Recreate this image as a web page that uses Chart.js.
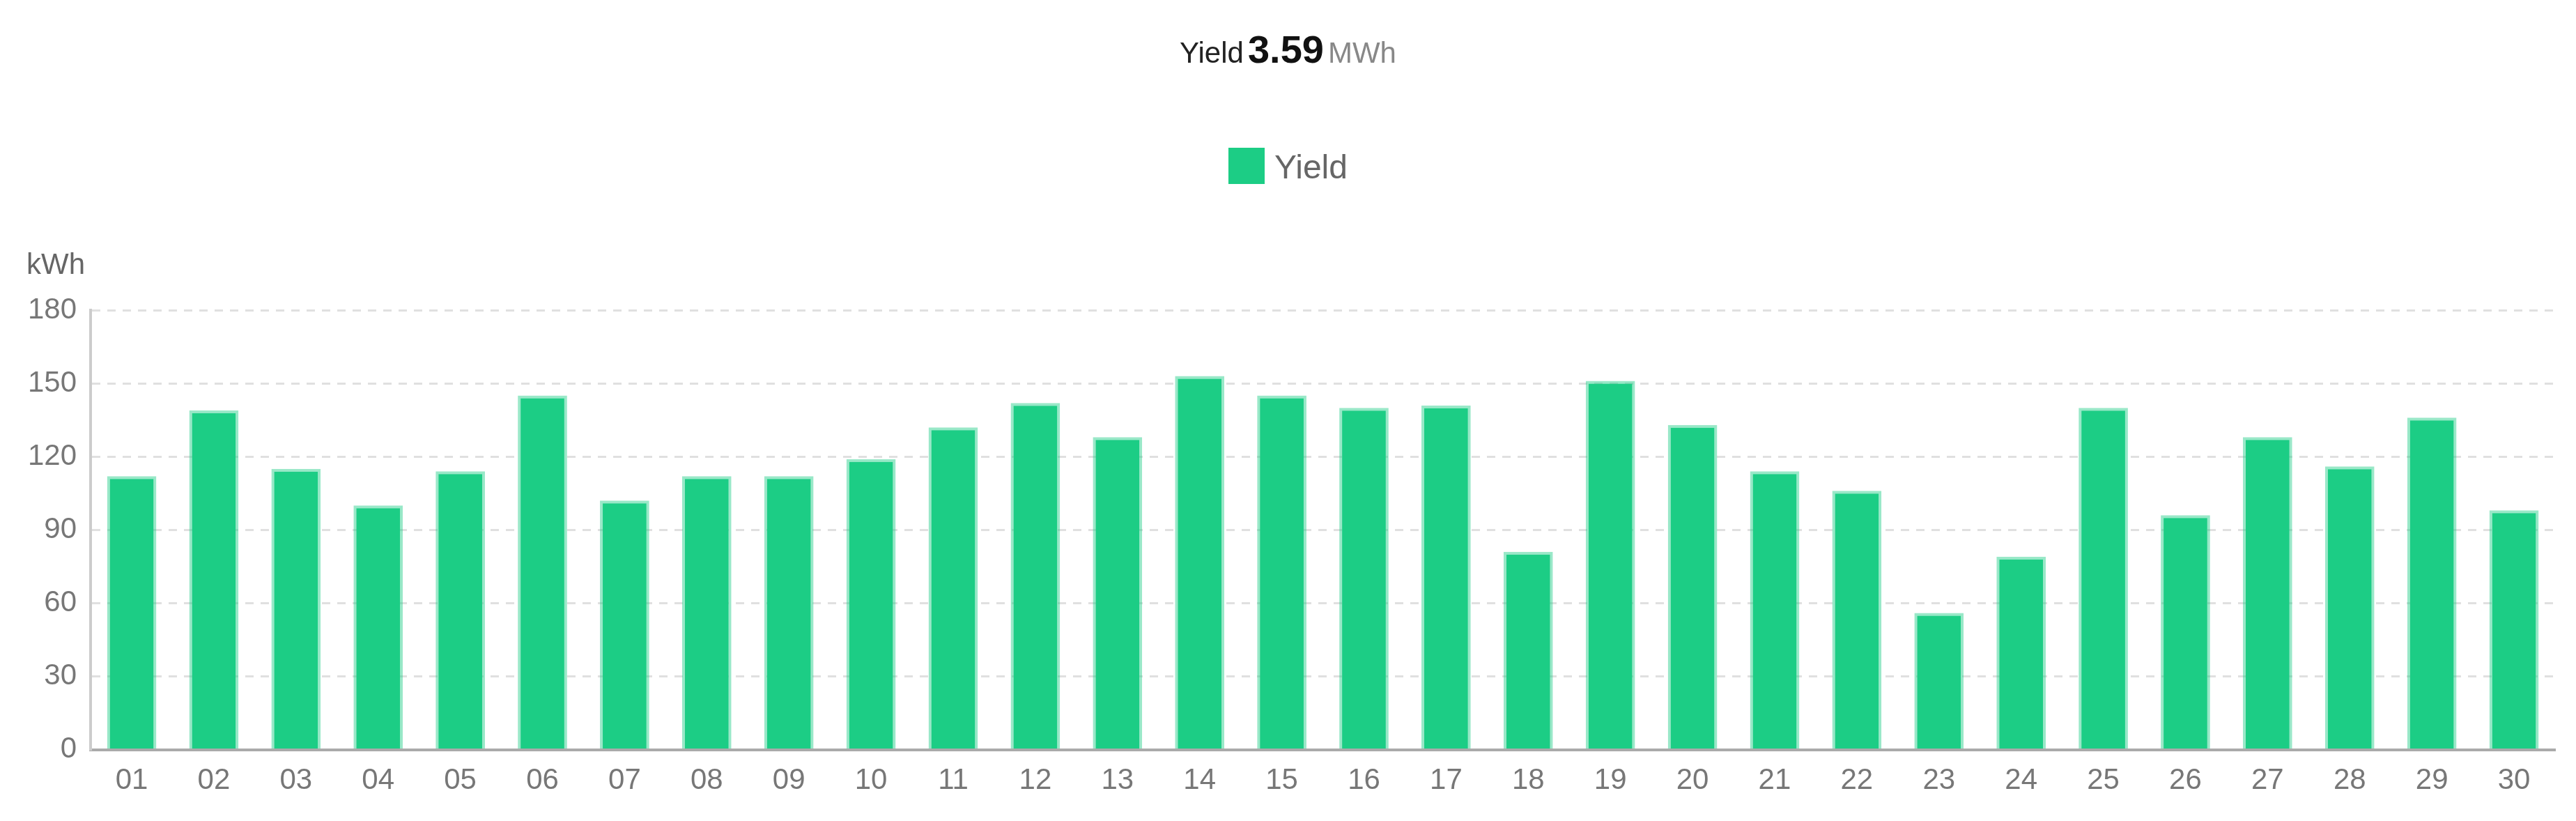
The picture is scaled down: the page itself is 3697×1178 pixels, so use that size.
<!DOCTYPE html>
<html><head><meta charset="utf-8">
<script src="https://cdn.jsdelivr.net/npm/chart.js@4"></script>
<style>
body{margin:0;background:#fff;font-family:"Liberation Sans",Arial,sans-serif;}
#wrap{position:relative;width:3697px;height:1178px;}
#title{position:absolute;top:38px;left:0;width:3697px;text-align:center;font-size:42px;color:#222;}
#title b{font-size:56px;color:#111;margin:0 6px;}
#title span{color:#888;}
#legend{position:absolute;top:212px;left:0;width:3697px;text-align:center;font-size:48px;color:#666;}
#legend i{display:inline-block;width:52px;height:52px;background:#1ccd85;vertical-align:-8px;margin-right:14px;}
#unit{position:absolute;left:38px;top:355px;font-size:42px;color:#666;}
</style></head><body>
<div id="wrap">
<div id="title">Yield<b>3.59</b><span>MWh</span></div>
<div id="legend"><i></i>Yield</div>
<div id="unit">kWh</div>
<canvas id="c" width="3697" height="1178"></canvas>
</div>
<script>
const days=["01","02","03","04","05","06","07","08","09","10","11","12","13","14","15","16","17","18","19","20","21","22","23","24","25","26","27","28","29","30"];
const yieldKWh=[112,139,115,100,114,145,102,112,112,119,132,142,128,153,145,140,141,81,151,133,114,106,56,79,140,96,128,116,136,98];
new Chart(document.getElementById('c'),{
type:'bar',
data:{labels:days,datasets:[{label:'Yield',data:yieldKWh,backgroundColor:'#1ccd85',borderColor:'rgba(28,205,133,0.45)',borderWidth:4,categoryPercentage:0.6,barPercentage:1}]},
options:{responsive:false,devicePixelRatio:1,animation:false,
layout:{padding:{top:445,left:20,right:30,bottom:20}},
plugins:{legend:{display:false},title:{display:false},tooltip:{enabled:false}},
scales:{
x:{grid:{display:false},border:{color:'#aaa',width:4},ticks:{color:'#777',font:{size:42,family:'Liberation Sans'},padding:12}},
y:{min:0,max:180,ticks:{stepSize:30,color:'#777',font:{size:42,family:'Liberation Sans'},padding:20},
grid:{color:'#e0e0e0',lineWidth:3,drawTicks:false},border:{color:'#ccc',width:4,dash:[12,10]}}
}}});
</script></body></html>
